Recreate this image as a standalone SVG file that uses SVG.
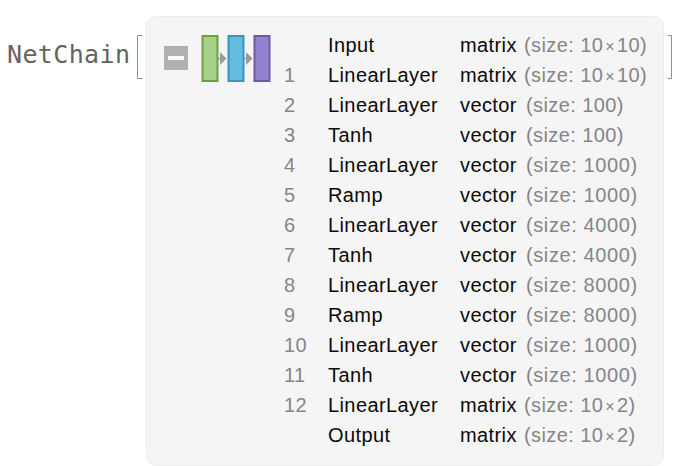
<svg xmlns="http://www.w3.org/2000/svg" width="684" height="466" viewBox="0 0 684 466">
<style>
text{font-family:"Liberation Sans",Arial,sans-serif;font-size:20px;letter-spacing:.4px}
.n{fill:#85858a}
.l{fill:#0a0a0a}
.g{fill:#85858a}
.x{fill:#85858a;font-size:16px}
.w{fill:#85858a;letter-spacing:.6px}
.m{font-family:"DejaVu Sans Mono",monospace;font-size:25px;letter-spacing:0;fill:#66625f}
.b{fill:none;stroke:#8a9496;stroke-width:1}
.c{stroke:#a8a8a8;stroke-width:1.5;fill:none}
.h{fill:#9a9a9a}
</style>
<rect width="684" height="466" fill="#fff"/>
<g id="head">
<text class="m" x="7" y="63" textLength="123" lengthAdjust="spacing">NetChain</text>
<path class="b" d="M142.500 35.500H137.500V78.500H142.500"/>
<path class="b" d="M667.500 35.500H671.500V78.500H667.500"/>
</g>
<g id="panel"><rect x="146.500" y="16.500" width="517" height="449" rx="10" fill="#f5f5f5" stroke="#ececec"/></g>
<g id="toggle"><rect x="164" y="46" width="24" height="24" fill="#b0b0b0"/><rect x="168" y="56" width="16" height="4" fill="#f8f8f8"/></g>
<g id="connectors">
<path class="c" d="M218 58.500H222M244 58.500H248"/>
<path class="h" d="M220 52L226.500 58.500L220 65ZM246 52L252.500 58.500L246 65Z"/>
</g>
<g id="block1"><rect x="202.500" y="36" width="15" height="45" fill="#a8d088" stroke="#6f9f3c" stroke-width="2"/></g>
<g id="block2"><rect x="228.500" y="36" width="15" height="45" fill="#63bde0" stroke="#3d94b4" stroke-width="2"/></g>
<g id="block3"><rect x="254.500" y="36" width="15" height="45" fill="#9480d0" stroke="#6a5aa8" stroke-width="2"/></g>
<g id="row0"><text class="l" x="328" y="52">Input</text><text x="460" y="52"><tspan class="l">matrix</tspan><tspan class="g" x="524">(size: 10</tspan><tspan class="x" dx="2">×</tspan><tspan class="g" dx="2">10)</tspan></text></g>
<g id="row1"><text class="n" x="284" y="82">1</text><text class="l" x="328" y="82">LinearLayer</text><text x="460" y="82"><tspan class="l">matrix</tspan><tspan class="g" x="524">(size: 10</tspan><tspan class="x" dx="2">×</tspan><tspan class="g" dx="2">10)</tspan></text></g>
<g id="row2"><text class="n" x="284" y="112">2</text><text class="l" x="328" y="112">LinearLayer</text><text x="460" y="112"><tspan class="l">vector</tspan><tspan class="g" x="526">(size: 100)</tspan></text></g>
<g id="row3"><text class="n" x="284" y="142">3</text><text class="l" x="328" y="142">Tanh</text><text x="460" y="142"><tspan class="l">vector</tspan><tspan class="g" x="526">(size: 100)</tspan></text></g>
<g id="row4"><text class="n" x="284" y="172">4</text><text class="l" x="328" y="172">LinearLayer</text><text x="460" y="172"><tspan class="l">vector</tspan><tspan class="w" x="526">(size: 1000)</tspan></text></g>
<g id="row5"><text class="n" x="284" y="202">5</text><text class="l" x="328" y="202">Ramp</text><text x="460" y="202"><tspan class="l">vector</tspan><tspan class="w" x="526">(size: 1000)</tspan></text></g>
<g id="row6"><text class="n" x="284" y="232">6</text><text class="l" x="328" y="232">LinearLayer</text><text x="460" y="232"><tspan class="l">vector</tspan><tspan class="w" x="526">(size: 4000)</tspan></text></g>
<g id="row7"><text class="n" x="284" y="262">7</text><text class="l" x="328" y="262">Tanh</text><text x="460" y="262"><tspan class="l">vector</tspan><tspan class="w" x="526">(size: 4000)</tspan></text></g>
<g id="row8"><text class="n" x="284" y="292">8</text><text class="l" x="328" y="292">LinearLayer</text><text x="460" y="292"><tspan class="l">vector</tspan><tspan class="w" x="526">(size: 8000)</tspan></text></g>
<g id="row9"><text class="n" x="284" y="322">9</text><text class="l" x="328" y="322">Ramp</text><text x="460" y="322"><tspan class="l">vector</tspan><tspan class="w" x="526">(size: 8000)</tspan></text></g>
<g id="row10"><text class="n" x="284" y="352">10</text><text class="l" x="328" y="352">LinearLayer</text><text x="460" y="352"><tspan class="l">vector</tspan><tspan class="w" x="526">(size: 1000)</tspan></text></g>
<g id="row11"><text class="n" x="284" y="382">11</text><text class="l" x="328" y="382">Tanh</text><text x="460" y="382"><tspan class="l">vector</tspan><tspan class="w" x="526">(size: 1000)</tspan></text></g>
<g id="row12"><text class="n" x="284" y="412">12</text><text class="l" x="328" y="412">LinearLayer</text><text x="460" y="412"><tspan class="l">matrix</tspan><tspan class="g" x="524">(size: 10</tspan><tspan class="x" dx="2">×</tspan><tspan class="g" dx="2">2)</tspan></text></g>
<g id="row13"><text class="l" x="328" y="442">Output</text><text x="460" y="442"><tspan class="l">matrix</tspan><tspan class="g" x="524">(size: 10</tspan><tspan class="x" dx="2">×</tspan><tspan class="g" dx="2">2)</tspan></text></g>
</svg>
